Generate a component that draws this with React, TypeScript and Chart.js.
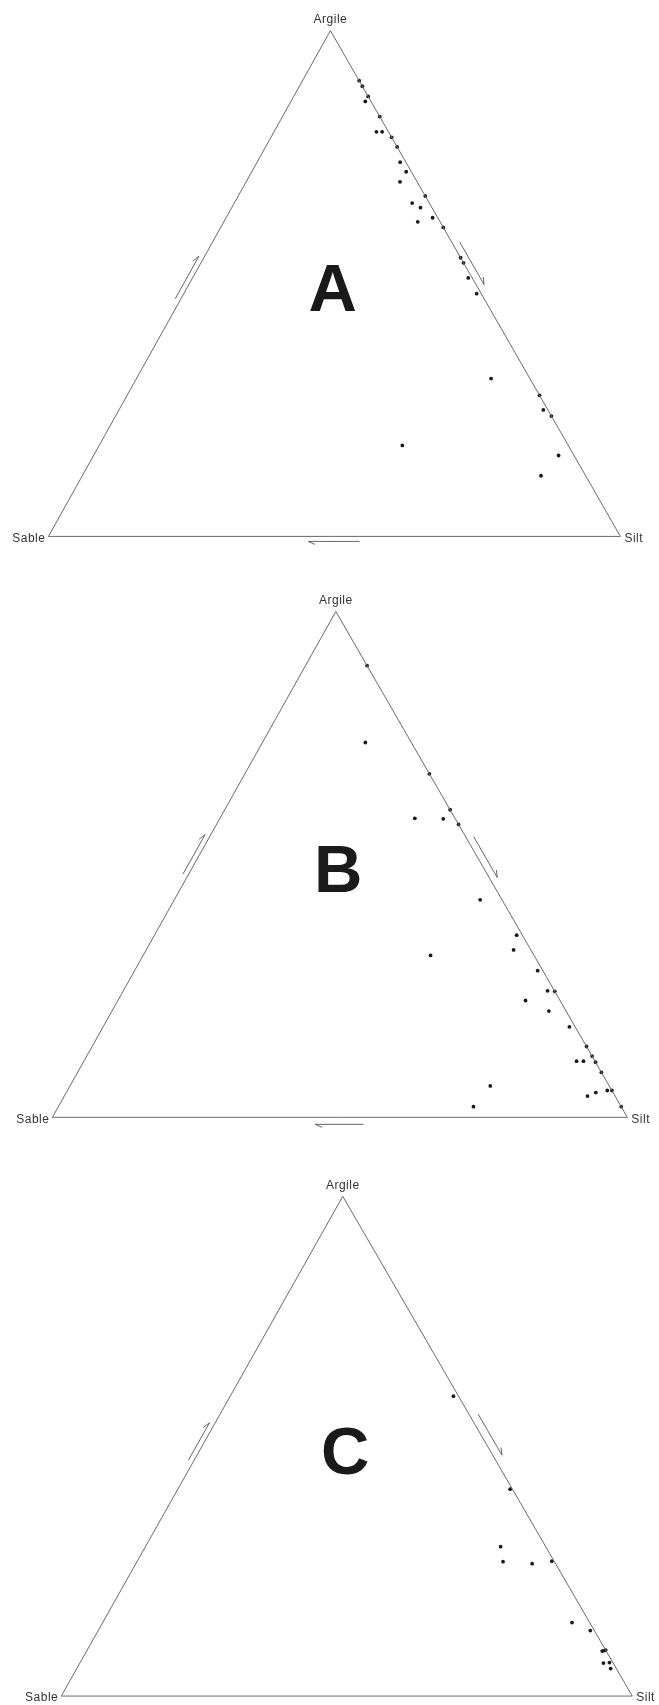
import React, { useEffect, useRef } from "react";
import { Chart, registerables } from "chart.js";

Chart.register(...registerables);

// ---------- DATA (percentages: argile / silt / sable) ----------
const argileA = [90.1, 89.0, 87.0, 86.0, 83.0, 80.0, 80.0, 78.9, 77.0, 74.0, 72.1, 70.1, 67.3, 65.9, 65.0, 63.0, 62.2, 61.1, 55.1, 54.1, 51.1, 48.0, 31.2, 27.9, 25.0, 23.8, 16.0, 18.0, 12.0];
const sableA = [0, 0, 0, 1.0, 0, 2.1, 1.1, 0, 0, 1.0, 0.9, 3.0, 0, 3.0, 2.0, 0.9, 3.9, 0, 0, 0, 0.7, 0.8, 6.8, 0, 0.8, 0, 2.7, 29.0, 7.8];
const siltA = [9.9, 11.0, 13.0, 13.0, 17.0, 17.9, 18.9, 21.1, 23.0, 25.0, 27.0, 26.9, 32.7, 31.1, 33.0, 36.1, 33.9, 38.9, 44.9, 45.9, 48.2, 51.2, 62.0, 72.1, 74.2, 76.2, 81.3, 53.0, 80.2];

const argileB = [89.3, 74.1, 67.9, 60.8, 59.1, 59.0, 57.9, 43.0, 32.0, 36.0, 33.1, 29.0, 25.0, 24.9, 23.1, 21.0, 17.9, 14.0, 12.1, 11.1, 11.1, 10.9, 8.9, 6.2, 4.2, 4.9, 5.3, 5.3, 2.1, 2.1];
const sableB = [0, 8.0, 0, 0, 7.0, 2.1, 0, 3.8, 18.0, 1.0, 3.0, 0.9, 1.2, 0, 6.0, 3.0, 1.0, 0, 0, 3.2, 2.0, 0, 0, 20.7, 4.8, 3.0, 0.8, 0, 25.7, 0];
const siltB = [10.7, 17.9, 32.1, 39.2, 33.9, 38.9, 42.1, 53.2, 50.0, 63.0, 63.9, 70.1, 73.8, 75.1, 70.9, 76.0, 81.1, 86.0, 87.9, 85.7, 86.9, 89.1, 91.1, 73.1, 91.0, 92.1, 93.9, 94.7, 72.2, 97.9];

const argileC = [60.0, 41.4, 29.9, 26.9, 26.5, 27.0, 14.7, 13.1, 9.0, 9.1, 9.2, 6.6, 6.7, 5.5];
const sableC = [0.9, 0.4, 7.9, 9.0, 4.1, 0.4, 3.1, 0.7, 0.7, 0.3, 0, 1.7, 0.6, 1.0];
const siltC = [39.1, 58.2, 62.2, 64.1, 69.4, 72.6, 82.2, 86.2, 90.3, 90.6, 90.8, 91.7, 92.7, 93.5];

// corner compositions [argile, silt, sable]
const cornerNames = ["Argile", "Silt", "Sable"];
const cornerArgile = [100, 0, 0];
const cornerSilt = [0, 100, 0];
const cornerSable = [0, 0, 100];

const panelLetters = ["A", "B", "C"];

// ---------- GEOMETRY / STYLE ----------
const APEX_X = 0.493;
const PAGE_W = 659;

type Arrow = { from: number; to: number; t0: number; t1: number; off: number };

const PANELS = [
  {
    top: 0, height: 570, xL: 45, xR: 624, yB: 540, yT: 27,
    arrows: [
      { from: 2, to: 0, t0: 0.465, t1: 0.549, off: 5 },
      { from: 0, to: 1, t0: 0.425, t1: 0.509, off: 7 },
      { from: 1, to: 2, t0: 0.456, t1: 0.546, off: 5 },
    ] as Arrow[],
  },
  {
    top: 570, height: 575, xL: 49, xR: 631, yB: 1121, yT: 608,
    arrows: [
      { from: 2, to: 0, t0: 0.476, t1: 0.554, off: 5 },
      { from: 0, to: 1, t0: 0.452, t1: 0.533, off: 7 },
      { from: 1, to: 2, t0: 0.459, t1: 0.543, off: 7 },
    ] as Arrow[],
  },
  {
    top: 1145, height: 560, xL: 58, xR: 636, yB: 1700, yT: 1193,
    arrows: [
      { from: 2, to: 0, t0: 0.467, t1: 0.542, off: 5 },
      { from: 0, to: 1, t0: 0.444, t1: 0.526, off: 8 },
    ] as Arrow[],
  },
];

const SERIES = [
  { argile: argileA, silt: siltA, sable: sableA },
  { argile: argileB, silt: siltB, sable: sableB },
  { argile: argileC, silt: siltC, sable: sableC },
];

function toXY(a: number, si: number, sa: number) {
  const t = a + si + sa;
  return { x: (si + a * APEX_X) / t, y: a / t };
}

function cornerXY(i: number) {
  return toXY(cornerArgile[i], cornerSilt[i], cornerSable[i]);
}

function makeDecor(panelIndex: number) {
  const panel = PANELS[panelIndex];
  return {
    id: "ternaryDecor" + panelIndex,
    afterDatasetsDraw(chart: any) {
      const ctx: CanvasRenderingContext2D = chart.ctx;
      const sx = chart.scales.x;
      const sy = chart.scales.y;
      const pix = (p: { x: number; y: number }) => ({
        X: sx.getPixelForValue(p.x),
        Y: sy.getPixelForValue(p.y),
      });
      const corners = [0, 1, 2].map((i) => pix(cornerXY(i)));
      const cx = (corners[0].X + corners[1].X + corners[2].X) / 3;
      const cy = (corners[0].Y + corners[1].Y + corners[2].Y) / 3;

      ctx.save();
      // arrows
      ctx.strokeStyle = "#666";
      ctx.lineWidth = 1;
      for (const ar of panel.arrows) {
        const P = corners[ar.from];
        const Q = corners[ar.to];
        const dx = Q.X - P.X;
        const dy = Q.Y - P.Y;
        const len = Math.hypot(dx, dy);
        const ux = dx / len;
        const uy = dy / len;
        let nx = -uy;
        let ny = ux;
        const mx = P.X + dx * 0.5 - cx;
        const my = P.Y + dy * 0.5 - cy;
        if (nx * mx + ny * my < 0) {
          nx = -nx;
          ny = -ny;
        }
        const tail = { X: P.X + dx * ar.t0 + nx * ar.off, Y: P.Y + dy * ar.t0 + ny * ar.off };
        const tip = { X: P.X + dx * ar.t1 + nx * ar.off, Y: P.Y + dy * ar.t1 + ny * ar.off };
        ctx.beginPath();
        ctx.moveTo(tail.X, tail.Y);
        ctx.lineTo(tip.X, tip.Y);
        ctx.lineTo(tip.X - ux * 7 + nx * 3, tip.Y - uy * 7 + ny * 3);
        ctx.stroke();
      }

      // corner labels
      ctx.fillStyle = "#333";
      ctx.font = '12px "Liberation Sans", Arial, sans-serif';
      (ctx as any).letterSpacing = "0.5px";
      ctx.textBaseline = "middle";
      // Argile (top)
      ctx.textAlign = "center";
      ctx.fillText(cornerNames[0], corners[0].X, corners[0].Y - 11);
      // Silt (right)
      ctx.textAlign = "left";
      ctx.fillText(cornerNames[1], corners[1].X + 4, corners[1].Y + 2);
      // Sable (left)
      ctx.textAlign = "right";
      ctx.fillText(cornerNames[2], corners[2].X - 3, corners[2].Y + 2);

      // big panel letter
      (ctx as any).letterSpacing = "0px";
      ctx.fillStyle = "#1a1a1a";
      ctx.font = 'bold 67px "Liberation Sans", Arial, sans-serif';
      ctx.textAlign = "center";
      ctx.textBaseline = "alphabetic";
      const lp = pix({ x: 0.497, y: 0.445 });
      ctx.fillText(panelLetters[panelIndex], lp.X, lp.Y);
      ctx.restore();
    },
  };
}

function TernaryPanel({ index }: { index: number }) {
  const ref = useRef<HTMLCanvasElement | null>(null);
  const panel = PANELS[index];
  const series = SERIES[index];

  useEffect(() => {
    const canvas = ref.current;
    if (!canvas) return;
    const W = panel.xR - panel.xL;
    const H = panel.yB - panel.yT;
    const xMin = (0 - panel.xL) / W;
    const xMax = (PAGE_W - panel.xL) / W;
    const yMax = (panel.yB - panel.top) / H;
    const yMin = (panel.yB - (panel.top + panel.height)) / H;

    const outline = [2, 1, 0, 2].map((i) => cornerXY(i));
    const points = series.argile.map((a, i) => toXY(a, series.silt[i], series.sable[i]));

    const chart = new Chart(canvas, {
      type: "scatter",
      data: {
        datasets: [
          {
            label: "triangle",
            data: outline,
            showLine: true,
            borderColor: "#6a6a6a",
            borderWidth: 1,
            pointRadius: 0,
            fill: false,
          },
          {
            label: "échantillons",
            data: points,
            pointRadius: 1.9,
            pointBackgroundColor: "#1a1a1a",
            pointBorderWidth: 0,
            showLine: false,
          },
        ],
      },
      options: {
        responsive: false,
        animation: false,
        devicePixelRatio: 1,
        layout: { padding: 0 },
        plugins: { legend: { display: false }, tooltip: { enabled: false } },
        scales: {
          x: { type: "linear", display: false, min: xMin, max: xMax },
          y: { type: "linear", display: false, min: yMin, max: yMax },
        },
      },
      plugins: [makeDecor(index)],
    });
    return () => chart.destroy();
  }, [index]);

  return (
    <canvas
      ref={ref}
      width={PAGE_W}
      height={panel.height}
      style={{
        position: "absolute",
        left: 0,
        top: panel.top,
        width: PAGE_W,
        height: panel.height,
        display: "block",
      }}
    />
  );
}

export default function App() {
  return (
    <div
      style={{
        position: "absolute",
        left: 0,
        top: 0,
        width: PAGE_W,
        height: 1705,
        background: "#fff",
        overflow: "hidden",
      }}
    >
      {PANELS.map((_, i) => (
        <TernaryPanel key={i} index={i} />
      ))}
    </div>
  );
}
